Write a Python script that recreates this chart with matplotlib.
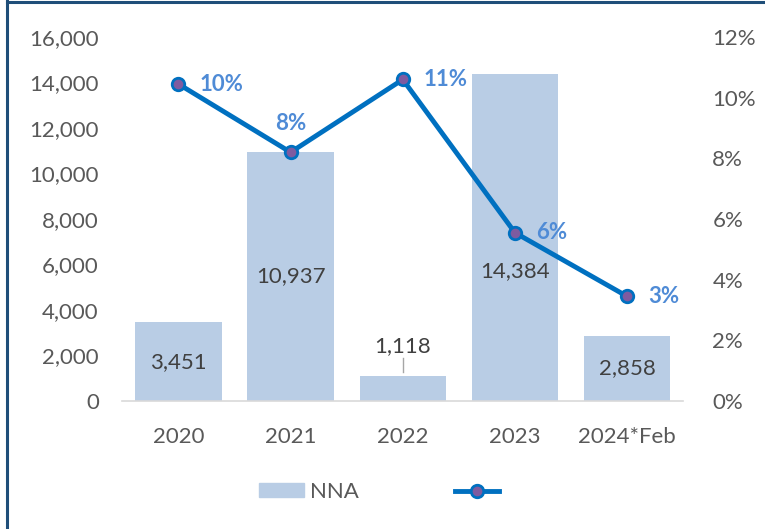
import numpy as np
import matplotlib.pyplot as plt
from matplotlib.lines import Line2D
from matplotlib.patches import Patch

plt.rcParams['font.family'] = ['Lato', 'DejaVu Sans']

# data
years = ['2020', '2021', '2022', '2023', '2024*Feb']
nna = [3451, 10937, 1118, 14384, 2858]
growth = [10.45, 8.2, 10.6, 5.55, 3.45]
growth_labels = ['10%', '8%', '11%', '6%', '3%']

bar_color = '#B9CDE5'
line_color = '#0070C0'
label_color = '#404040'
tick_color = '#595959'
pct_color = '#4F8BD6'
fs = 16

fig = plt.figure(figsize=(7.65, 5.29), dpi=100)
ax = fig.add_axes([0.16, 0.242, 0.733, 0.688])
ax2 = ax.twinx()

x = np.arange(len(years))
ax.bar(x, nna, width=0.77, color=bar_color, zorder=1)
ax.set_ylim(0, 16000)
ax.set_xlim(-0.5, len(years) - 0.5)
ax.set_yticks(np.arange(0, 16001, 2000))
ax.set_yticklabels([f'{v:,}' for v in range(0, 16001, 2000)])
ax.set_xticks(x)
ax.set_xticklabels(years)

for a in (ax, ax2):
    for s in ['top', 'right', 'left', 'bottom']:
        a.spines[s].set_visible(False)
    a.tick_params(length=0, labelsize=fs, colors=tick_color)
ax.spines['bottom'].set_visible(True)
ax.spines['bottom'].set_color('#D9D9D9')
ax.spines['bottom'].set_linewidth(1.2)
ax.tick_params(axis='x', pad=19)
ax.tick_params(axis='y', pad=17)

# bar value labels
for i, v in enumerate(nna):
    if i == 2:
        ax.text(i, v + 1300, f'{v:,}', ha='center', va='center', fontsize=fs, color=label_color)
        ax.plot([i, i], [v + 150, v + 750], color='#A6A6A6', lw=1)
    elif i == 3:
        ax.text(i, v * 0.397, f'{v:,}', ha='center', va='center', fontsize=fs, color=label_color)
    else:
        ax.text(i, v / 2, f'{v:,}', ha='center', va='center', fontsize=fs, color=label_color)

ax2.plot(x, growth, color=line_color, lw=3.5, marker='o', markersize=9,
         markerfacecolor='#7E5BA0', markeredgecolor=line_color, markeredgewidth=2, zorder=3)
ax2.set_ylim(0, 12)
ax2.set_yticks(np.arange(0, 13, 2))
ax2.set_yticklabels([f'{v}%' for v in range(0, 13, 2)])
ax2.tick_params(axis='y', pad=21)

for i, (g, t) in enumerate(zip(growth, growth_labels)):
    if i == 1:
        ax2.annotate(t, (i, g), xytext=(0, 21), textcoords='offset points', ha='center',
                     va='center', fontsize=fs, fontweight='bold', color=pct_color)
    else:
        ax2.annotate(t, (i, g), xytext=(15, 0), textcoords='offset points', ha='left',
                     va='center', fontsize=fs, fontweight='bold', color=pct_color)

handles = [Patch(color=bar_color),
           Line2D([0], [0], color=line_color, lw=3.5, marker='o', markersize=9,
                  markerfacecolor='#7E5BA0', markeredgecolor=line_color, markeredgewidth=2)]
fig.legend(handles, ['NNA', ''], loc='center', bbox_to_anchor=(0.5, 0.07), ncol=2,
           frameon=False, fontsize=fs, handlelength=2.0, handleheight=0.6,
           handletextpad=0.3, columnspacing=4.3, labelcolor=tick_color)

# frame on left and top
fig.add_artist(Line2D([0.009, 0.009], [0, 0.998], color='#1F4E79', lw=2.2, transform=fig.transFigure))
fig.add_artist(Line2D([0.009, 1], [0.997, 0.997], color='#1F4E79', lw=2.2, transform=fig.transFigure))

fig.savefig('out.png', dpi=100)
